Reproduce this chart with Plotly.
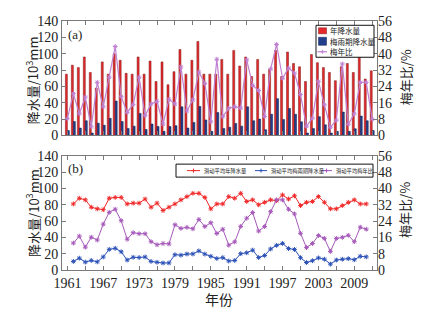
import plotly.graph_objects as go

# ---------------- data ----------------
years = list(range(1961, 2013))
annual_precip = [75, 86, 83, 96, 77, 58, 90, 75, 100, 92, 76, 75, 96, 75, 91, 66, 90, 62, 78, 105,
                 75, 92, 115, 75, 75, 75, 93, 75, 104, 85, 96, 72, 93, 75, 81, 104, 72, 102, 88, 84,
                 66, 99, 89, 83, 77, 67, 84, 88, 77, 97, 69, 79]
meiyu_precip = [6, 17, 9, 18, 3, 15, 12.6, 21, 42, 17, 8.6, 11.4, 27, 7.3, 14, 11, 5, 11, 12, 35,
                9, 16, 35.5, 19, 5, 28, 8.6, 10, 14.7, 11.4, 35, 18, 20, 7, 26, 45, 19.6, 33, 26, 16.7,
                3, 8.6, 23, 13, 3, 5, 28.6, 5, 8.2, 23.7, 18, 6]
meiyu_ratio = [8.2, 20.5, 10.6, 18.8, 4.2, 26, 14, 28.5, 43.5, 19, 11.3, 15.2, 28.5, 9.7, 15.4, 16.7,
               5.6, 17.7, 15.4, 33.5, 12, 17.4, 31, 25.5, 6.7, 37.3, 9.2, 13.3, 14.1, 13.4, 37, 24.5,
               22, 9.3, 32.5, 44.5, 28, 33, 30.5, 20, 4.5, 8.5, 26.5, 15, 4, 7.5, 35, 5.5, 10.6, 26,
               26, 8]

ma_years = list(range(1962, 2012))
ma_annual = [81, 88, 86, 77, 75, 74, 88, 89, 89, 81, 82, 82, 87, 77, 82, 73, 77, 81, 86, 90,
             94, 94, 89, 75, 81, 81, 90, 88, 94, 84, 86, 80, 83, 86, 85, 92, 87, 91, 79, 83,
             84, 90, 83, 75, 75, 79, 83, 86, 81, 81]
ma_meiyu = [10.5, 14.5, 9.7, 11.7, 10, 16, 25.3, 26.6, 22.4, 12.2, 15.6, 15.3, 16, 10.5, 9.5, 8.6,
            8.7, 18.8, 18.2, 19.6, 19.7, 23.4, 19.5, 16.8, 14.1, 15.2, 11, 11.7, 20, 21.1, 24.4,
            15.3, 17.8, 25.8, 30.2, 32.6, 26.3, 25.2, 15.1, 9.2, 11.4, 14.8, 13.2, 7.2, 12.2, 13.2,
            13.9, 12.6, 16.8, 16.1]
ma_ratio = [13.2, 16.6, 11.2, 16.1, 14.7, 22.5, 28.3, 29.8, 24.2, 15.1, 18.3, 17.8, 17.8, 13.9,
            12.4, 13, 12.8, 22.2, 20.4, 20.9, 20.2, 24.8, 21.3, 23.2, 17.9, 20, 12.2, 13.8, 21.4,
            25.4, 28.2, 19.1, 21.3, 28.6, 34.4, 34.4, 29.8, 27.5, 18, 11, 13, 16.9, 15.5, 9.1,
            15.5, 16, 17, 13.9, 21, 20]

x_major_vals = [1961, 1967, 1973, 1979, 1985, 1991, 1997, 2003, 2009]
x_major_text = ["1961", "1967", "1973", "1979", "1985", "1991", "1997", "2003", "2009"]
x_minor_vals = [1964, 1970, 1976, 1982, 1988, 1994, 2000, 2006, 2012]
left_tick_vals = [0, 20, 40, 60, 80, 100, 120, 140]
right_tick_vals = [0, 8, 16, 24, 32, 40, 48, 56]

# ---------------- geometry / styles ----------------
OFF = 8                      # page body margin of the html page
W, H = 425 - OFF, 310 - OFF  # figure size so that it fills the window
PLOT_L, PLOT_R = 62, 377     # target screen pixels of the plot area
PLOT_T, PLOT_B = 20.7, 270
TOP_BOTTOM, BOT_TOP = 135.3, 155.7
ML = PLOT_L - OFF
MR = W - (PLOT_R - OFF)
MT = PLOT_T - OFF
MB = H - (PLOT_B - OFF)
PW, PH = W - ML - MR, H - MT - MB

RED, RED_EDGE = "#e62a2c", "#7d1414"
BLUE, BLUE_EDGE = "#223f8e", "#0e1d4a"
PURPLE_TOP = "#c081d2"
RED_L, BLUE_L, PURPLE_L = "#f02a2a", "#2d52b8", "#a659ba"
AXC = "#7a7a7a"
SERIF = "Liberation Serif, Noto Sans CJK SC"
CJK = "Noto Sans CJK SC, Liberation Serif"


def fx(p):
    return (p - OFF - ML) / PW


def fy(p):
    return (H - MB - (p - OFF)) / PH


fig = go.Figure()

# top panel
fig.add_bar(x=years, y=annual_precip, name="年降水量", xaxis="x", yaxis="y",
            marker=dict(color=RED, line=dict(color=RED_EDGE, width=0.5)))
fig.add_bar(x=years, y=meiyu_precip, name="梅雨期降水量", xaxis="x", yaxis="y",
            marker=dict(color=BLUE, line=dict(color=BLUE_EDGE, width=0.5)))
fig.add_scatter(x=years, y=meiyu_ratio, name="梅年比", xaxis="x", yaxis="y2",
                mode="lines+markers", line=dict(color=PURPLE_TOP, width=1.2),
                marker=dict(symbol="asterisk-open", size=4, line=dict(color=PURPLE_TOP, width=1)))

# bottom panel
fig.add_scatter(x=ma_years, y=ma_annual, name="滑动平均年降水量", xaxis="x2", yaxis="y3",
                mode="lines+markers", line=dict(color=RED_L, width=1),
                marker=dict(symbol="asterisk-open", size=4, line=dict(color=RED_L, width=1)))
fig.add_scatter(x=ma_years, y=ma_meiyu, name="滑动平均梅雨期降水量", xaxis="x2", yaxis="y3",
                mode="lines+markers", line=dict(color=BLUE_L, width=1),
                marker=dict(symbol="asterisk-open", size=4, line=dict(color=BLUE_L, width=1)))
fig.add_scatter(x=ma_years, y=ma_ratio, name="滑动平均梅年比", xaxis="x2", yaxis="y4",
                mode="lines+markers", line=dict(color=PURPLE_L, width=1),
                marker=dict(symbol="asterisk-open", size=4, line=dict(color=PURPLE_L, width=1)))

tickfont = dict(family=SERIF, size=14, color="#222")
xcommon = dict(range=[1960.1, 2012.8], tickvals=x_major_vals, ticks="inside", ticklen=4,
               tickcolor=AXC, showline=True, linecolor=AXC, linewidth=1, mirror="ticks",
               minor=dict(tickvals=x_minor_vals, ticks="inside", ticklen=4, tickcolor=AXC),
               showgrid=False, zeroline=False, tickfont=tickfont)
ylcommon = dict(range=[0, 140], tickvals=left_tick_vals, ticks="inside", ticklen=4,
                tickcolor=AXC, showline=True, linecolor=AXC, linewidth=1, mirror=True,
                showgrid=False, zeroline=False, tickfont=tickfont)
yrcommon = dict(range=[0, 56], tickvals=right_tick_vals, ticks="inside", ticklen=4,
                tickcolor=AXC, showline=False, side="right", showgrid=False, zeroline=False,
                tickfont=tickfont)

fig.update_layout(
    width=W, height=H, margin=dict(l=ML, r=MR, t=MT, b=MB, autoexpand=False),
    paper_bgcolor="white", plot_bgcolor="white",
    barmode="group", bargap=0.33, bargroupgap=0,
    showlegend=False,
    font=dict(family=SERIF, color="#222"),
    xaxis=dict(domain=[0, 1], anchor="y", showticklabels=False, **xcommon),
    yaxis=dict(domain=[fy(TOP_BOTTOM), 1], anchor="x", **ylcommon),
    yaxis2=dict(overlaying="y", anchor="x", **yrcommon),
    xaxis2=dict(domain=[0, 1], anchor="y3", ticktext=x_major_text, ticklabelstandoff=0,
                **xcommon),
    yaxis3=dict(domain=[0, fy(BOT_TOP)], anchor="x2", **ylcommon),
    yaxis4=dict(overlaying="y3", anchor="x2", **yrcommon),
)

ann = []
shapes = []


def text(xp, yp, s, size, family=CJK, xanchor="center", angle=0, color="#222"):
    ann.append(dict(x=fx(xp), y=fy(yp), xref="paper", yref="paper", text=s, showarrow=False,
                    xanchor=xanchor, yanchor="middle", textangle=angle,
                    font=dict(family=family, size=size, color=color)))


# axis titles and panel labels
for yc in [(PLOT_T + TOP_BOTTOM) / 2 + 2, (BOT_TOP + PLOT_B) / 2]:
    text(32, yc, "降水量/10<sup>3</sup>mm", 13, angle=-90)
    text(405, yc - 3, "梅年比/%", 13, angle=-90)
text(219, 299, "年份", 14)
text(66, 34.3, "(a)", 13, family=SERIF, xanchor="left")
text(66, 168.3, "(b)", 13, family=SERIF, xanchor="left")


def rect(x0, y0, x1, y1, fill, line, lw=1):
    shapes.append(dict(type="rect", xref="paper", yref="paper", x0=fx(x0), x1=fx(x1),
                       y0=fy(y1), y1=fy(y0), fillcolor=fill, line=dict(color=line, width=lw)))


def seg(x0, y0, x1, y1, color, lw=1):
    shapes.append(dict(type="line", xref="paper", yref="paper", x0=fx(x0), x1=fx(x1),
                       y0=fy(y0), y1=fy(y1), line=dict(color=color, width=lw)))


def star(xc, yc, color):
    seg(xc - 2, yc, xc + 2, yc, color)
    seg(xc, yc - 2, xc, yc + 2, color)


# top legend
rect(316, 25, 374, 57, "white", "#111", 1)
rect(318.5, 27.5, 326.5, 33.5, RED, RED_EDGE, 0.5)
rect(318.5, 37, 326.5, 45, BLUE, BLUE_EDGE, 0.5)
seg(317.5, 51.5, 327, 51.5, PURPLE_TOP, 1.2)
star(322.3, 51.5, PURPLE_TOP)
text(327.5, 30.5, "年降水量", 7.5, xanchor="left")
text(327.5, 41, "梅雨期降水量", 7.5, xanchor="left")
text(327.5, 51.5, "梅年比", 7.5, xanchor="left")

# bottom legend
rect(176, 164, 373, 177, "white", "#111", 1)
yl = 170.5
for (x0, x1, tx, col, lab) in [(187, 200, 201.5, RED_L, "滑动平均年降水量"),
                               (255, 267, 268.5, BLUE_L, "滑动平均梅雨期降水量"),
                               (321, 332, 333.5, PURPLE_L, "滑动平均梅年比")]:
    seg(x0, yl, x1, yl, col, 1)
    star((x0 + x1) / 2, yl, col)
    text(tx, yl, lab, 5.3, xanchor="left")

fig.update_layout(annotations=ann, shapes=shapes)

fig.write_html("out.html")
